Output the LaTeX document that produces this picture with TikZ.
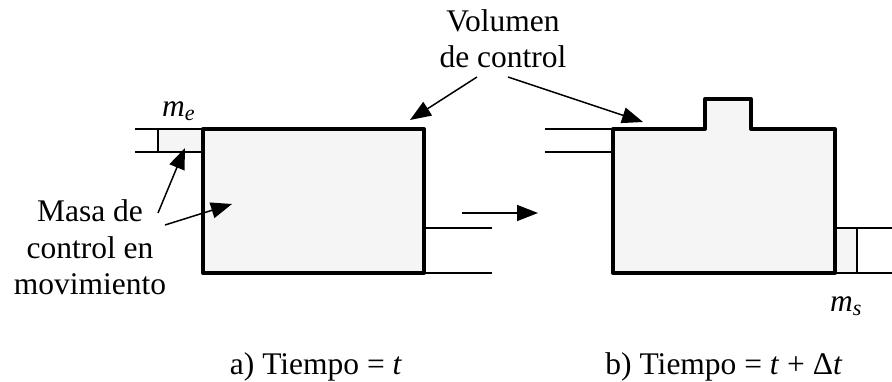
\documentclass[tikz,border=0pt]{standalone}
\usepackage{fontspec}
\setmainfont{Liberation Serif}
\usetikzlibrary{arrows.meta}

\tikzset{
  pared/.style={line width=4pt, line join=round, fill=black!4},
  tubo/.style={line width=1.3pt},
  flecha/.style={line width=1.5pt, -{Triangle[length=21pt,width=16pt]}},
  texto/.style={font=\fontsize{31.5}{36.5}\selectfont, inner sep=0pt, align=center}
}

\begin{document}
\begin{tikzpicture}[x=1pt, y=-1pt]
  \useasboundingbox (0,0) rectangle (892,382);
  % a) instante t
  \draw[tubo, fill=black!4] (158,129) rectangle (203,152);
  \draw[tubo] (135,129) -- (203,129);
  \draw[tubo] (135,152) -- (203,152);
  \draw[tubo] (424,228) -- (492,228);
  \draw[tubo] (424,273) -- (492,273);
  \draw[pared] (203,129) rectangle (424,273);
  % b) instante t + dt
  \draw[tubo] (545,129) -- (613,129);
  \draw[tubo] (545,152) -- (613,152);
  \draw[tubo, fill=black!4] (835,228) rectangle (857,273);
  \draw[tubo] (857,228) -- (892,228);
  \draw[tubo] (857,273) -- (892,273);
  \draw[pared] (613,129) -- (705,129) -- (705,99) -- (751,99) -- (751,129)
    -- (835,129) -- (835,273) -- (613,273) -- cycle;

  \node[texto] (volumen) at (503,38.8) {Volumen\\de control};
  \node[texto] (masa) at (90,247.6) {Masa de\\control en\\movimiento};
  \node[texto, anchor=base west] (me) at (162,117) {\textit{m\textsubscript{e}}};
  \node[texto, anchor=base west] (ms) at (830,312) {\textit{m\textsubscript{s}}};
  \node[texto, anchor=base] (tiempoa) at (316,374) {a) Tiempo = \textit{t}};
  \node[texto, anchor=base] (tiempob) at (724,374) {b) Tiempo = \textit{t} + Δ\textit{t}};

  \coordinate (vola) at (477,77);
  \coordinate (volb) at (508,77);
  \coordinate (vca) at (410,120);
  \coordinate (vcb) at (643,122);
  \coordinate (masaa) at (158,213);
  \coordinate (masab) at (165,225);
  \coordinate (mca) at (185,148);
  \coordinate (mcb) at (232,204);
  \coordinate (pasoa) at (462,213);
  \coordinate (pasob) at (538,213);

  \draw[flecha] (vola) -- (vca);
  \draw[flecha] (volb) -- (vcb);
  \draw[flecha] (masaa) -- (mca);
  \draw[flecha] (masab) -- (mcb);
  \draw[flecha] (pasoa) -- (pasob);
\end{tikzpicture}
\end{document}
